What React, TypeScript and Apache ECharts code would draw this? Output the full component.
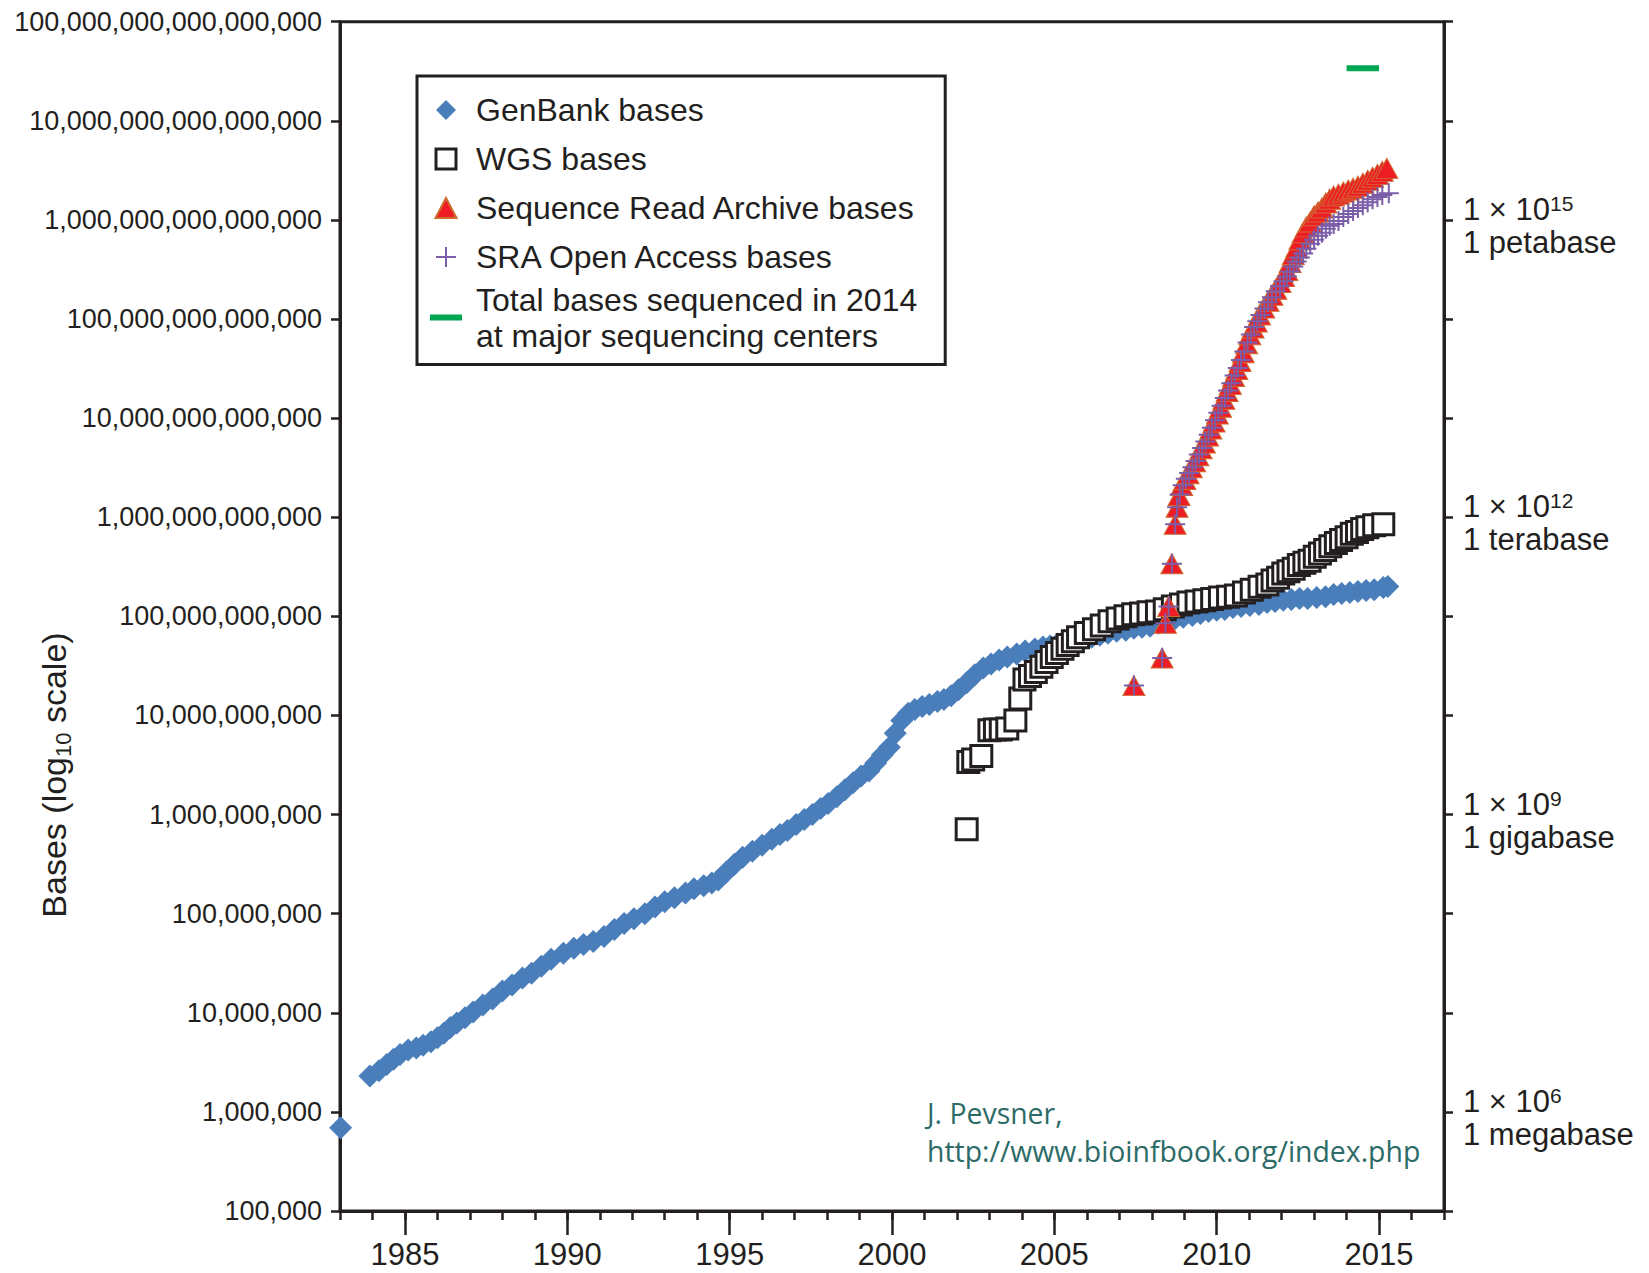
import React, { useEffect, useRef } from 'react';
import * as echarts from 'echarts';

const FONT = '"Liberation Sans", Arial, Helvetica, sans-serif';
const INK = '#231f20';

// ---- axes ----
const yearTicks = [1983, 1984, 1985, 1986, 1987, 1988, 1989, 1990, 1991, 1992, 1993, 1994, 1995, 1996, 1997, 1998, 1999, 2000, 2001, 2002, 2003, 2004, 2005, 2006, 2007, 2008, 2009, 2010, 2011, 2012, 2013, 2014, 2015, 2016, 2017];
const yearLabels = [1985, 1990, 1995, 2000, 2005, 2010, 2015];
const decadeTicks = [1e5, 1e6, 1e7, 1e8, 1e9, 1e10, 1e11, 1e12, 1e13, 1e14, 1e15, 1e16, 1e17];
const decadeLabels = [
  '100,000', '1,000,000', '10,000,000', '100,000,000', '1,000,000,000', '10,000,000,000',
  '100,000,000,000', '1,000,000,000,000', '10,000,000,000,000', '100,000,000,000,000',
  '1,000,000,000,000,000', '10,000,000,000,000,000', '100,000,000,000,000,000',
];
const unitTicks = [1e6, 1e9, 1e12, 1e15];
const unitExponents = ['6', '9', '12', '15'];
const unitNames = ['1 megabase', '1 gigabase', '1 terabase', '1 petabase'];

// ---- series names ----
const NAME_GB = 'GenBank bases';
const NAME_WGS = 'WGS bases';
const NAME_SRA = 'Sequence Read Archive bases';
const NAME_OA = 'SRA Open Access bases';
const NAME_TOTAL = 'Total bases sequenced in 2014\nat major sequencing centers';

// ---- data: [year, bases] ----
const genbank = [
  [1983.02, 6.9e5], [1983.92, 2.3e6], [1984.2, 2.6e6], [1984.44, 3.0e6], [1984.65, 3.4e6], [1984.85, 3.8e6],
  [1985.1, 4.2e6], [1985.35, 4.4e6], [1985.56, 4.7e6], [1985.8, 5.1e6], [1986.0, 5.6e6], [1986.2, 6.2e6],
  [1986.4, 7.1e6], [1986.6, 7.9e6], [1986.85, 8.9e6], [1987.1, 1.02e7], [1987.4, 1.2e7], [1987.7, 1.38e7],
  [1988.0, 1.66e7], [1988.3, 1.91e7], [1988.62, 2.24e7], [1988.9, 2.51e7], [1989.2, 2.95e7], [1989.5, 3.47e7],
  [1989.88, 3.98e7], [1990.2, 4.47e7], [1990.5, 4.9e7], [1990.8, 5.25e7], [1991.13, 5.89e7], [1991.45, 6.92e7],
  [1991.75, 7.94e7], [1992.05, 8.91e7], [1992.39, 1.0e8], [1992.7, 1.17e8], [1993.0, 1.32e8], [1993.3, 1.45e8],
  [1993.64, 1.62e8], [1993.9, 1.78e8], [1994.2, 1.91e8], [1994.45, 2.04e8], [1994.65, 2.19e8], [1994.9, 2.63e8],
  [1995.15, 3.16e8], [1995.4, 3.72e8], [1995.7, 4.27e8], [1996.0, 4.9e8], [1996.3, 5.62e8], [1996.55, 6.31e8],
  [1996.78, 6.92e8], [1997.05, 7.94e8], [1997.3, 8.91e8], [1997.55, 1.0e9], [1997.8, 1.15e9], [1998.03, 1.29e9],
  [1998.3, 1.51e9], [1998.55, 1.78e9], [1998.8, 2.09e9], [1999.05, 2.45e9], [1999.29, 2.75e9], [1999.5, 3.31e9],
  [1999.7, 3.98e9], [1999.92, 4.79e9], [2000.1, 6.61e9], [2000.3, 8.91e9], [2000.5, 1.05e10], [2000.7, 1.15e10],
  [2000.93, 1.23e10], [2001.15, 1.29e10], [2001.4, 1.38e10], [2001.6, 1.45e10], [2001.82, 1.58e10], [2002.05, 1.82e10],
  [2002.3, 2.14e10], [2002.55, 2.57e10], [2002.81, 3.02e10], [2003.05, 3.31e10], [2003.3, 3.63e10], [2003.55, 3.89e10],
  [2003.84, 4.17e10], [2004.1, 4.47e10], [2004.4, 4.68e10], [2004.65, 4.9e10], [2004.87, 5.01e10], [2005.1, 5.25e10],
  [2005.4, 5.5e10], [2005.65, 5.75e10], [2005.89, 5.89e10], [2006.15, 6.17e10], [2006.4, 6.46e10], [2006.65, 6.76e10],
  [2006.92, 7.08e10], [2007.2, 7.24e10], [2007.45, 7.59e10], [2007.7, 7.76e10], [2007.95, 7.94e10], [2008.2, 8.51e10],
  [2008.45, 8.91e10], [2008.7, 9.33e10], [2008.97, 9.77e10], [2009.25, 1.02e11], [2009.5, 1.07e11], [2009.75, 1.12e11],
  [2010.0, 1.15e11], [2010.25, 1.17e11], [2010.5, 1.23e11], [2010.75, 1.26e11], [2011.02, 1.29e11], [2011.3, 1.32e11],
  [2011.55, 1.38e11], [2011.8, 1.41e11], [2012.05, 1.45e11], [2012.3, 1.48e11], [2012.55, 1.51e11], [2012.8, 1.51e11],
  [2013.08, 1.55e11], [2013.35, 1.58e11], [2013.6, 1.66e11], [2013.85, 1.7e11], [2014.1, 1.74e11], [2014.35, 1.78e11],
  [2014.6, 1.82e11], [2014.85, 1.86e11], [2015.13, 1.95e11], [2015.27, 2.0e11],
];

const wgs = [
  [2002.3, 7.1e8], [2002.35, 3.4e9], [2002.5, 3.6e9], [2002.75, 3.9e9], [2003.0, 7.1e9], [2003.17, 7.2e9],
  [2003.35, 7.2e9], [2003.55, 7.4e9], [2003.8, 8.9e9], [2003.95, 1.48e10], [2004.08, 2.3e10], [2004.25, 2.5e10],
  [2004.43, 2.75e10], [2004.6, 3.1e10], [2004.76, 3.47e10], [2004.92, 3.9e10], [2005.08, 4.27e10], [2005.25, 4.7e10],
  [2005.41, 5.13e10], [2005.57, 5.6e10], [2005.73, 6.17e10], [2005.97, 6.8e10], [2006.22, 7.41e10], [2006.46, 8.1e10],
  [2006.7, 8.91e10], [2006.95, 9.5e10], [2007.19, 1.0e11], [2007.43, 1.05e11], [2007.67, 1.07e11], [2007.9, 1.1e11],
  [2008.16, 1.12e11], [2008.4, 1.18e11], [2008.65, 1.26e11], [2008.9, 1.32e11], [2009.13, 1.38e11], [2009.38, 1.41e11],
  [2009.62, 1.45e11], [2009.86, 1.5e11], [2010.1, 1.55e11], [2010.35, 1.58e11], [2010.59, 1.62e11], [2010.84, 1.74e11],
  [2011.08, 1.86e11], [2011.32, 1.99e11], [2011.56, 2.09e11], [2011.72, 2.3e11], [2011.89, 2.45e11], [2012.05, 2.7e11],
  [2012.21, 2.85e11], [2012.37, 3.02e11], [2012.53, 3.3e11], [2012.7, 3.47e11], [2012.86, 3.63e11], [2013.02, 4.0e11],
  [2013.18, 4.3e11], [2013.34, 4.68e11], [2013.5, 5.1e11], [2013.67, 5.5e11], [2013.83, 5.89e11], [2014.0, 6.3e11],
  [2014.16, 6.8e11], [2014.32, 7.08e11], [2014.48, 7.6e11], [2014.64, 7.94e11], [2014.85, 8.3e11], [2015.13, 8.51e11],
];

const sra = [
  [2007.45, 2.0e10], [2008.32, 3.8e10], [2008.42, 8.5e10], [2008.52, 1.26e11], [2008.62, 3.4e11], [2008.72, 8.5e11],
  [2008.78, 1.26e12], [2008.84, 1.66e12], [2008.92, 2.09e12], [2009.02, 2.4e12], [2009.12, 2.75e12], [2009.22, 3.16e12],
  [2009.32, 3.63e12], [2009.42, 4.17e12], [2009.52, 4.9e12], [2009.62, 5.62e12], [2009.72, 6.61e12], [2009.82, 7.76e12],
  [2009.92, 9.12e12], [2010.02, 1.1e13], [2010.12, 1.29e13], [2010.22, 1.55e13], [2010.32, 1.86e13], [2010.42, 2.19e13],
  [2010.52, 2.63e13], [2010.62, 3.09e13], [2010.72, 3.72e13], [2010.82, 4.57e13], [2010.92, 5.62e13], [2011.02, 6.92e13],
  [2011.12, 8.13e13], [2011.22, 9.33e13], [2011.32, 1.1e14], [2011.45, 1.29e14], [2011.58, 1.51e14], [2011.7, 1.74e14],
  [2011.82, 2.0e14], [2011.95, 2.34e14], [2012.06, 2.69e14], [2012.16, 3.09e14], [2012.26, 3.72e14], [2012.36, 4.47e14],
  [2012.46, 5.25e14], [2012.56, 6.31e14], [2012.66, 7.41e14], [2012.76, 8.51e14], [2012.88, 9.55e14], [2013.0, 1.1e15],
  [2013.12, 1.2e15], [2013.24, 1.32e15], [2013.36, 1.48e15], [2013.48, 1.62e15], [2013.6, 1.74e15], [2013.75, 1.82e15],
  [2013.9, 1.91e15], [2014.05, 2.0e15], [2014.2, 2.09e15], [2014.35, 2.19e15], [2014.5, 2.34e15], [2014.65, 2.51e15],
  [2014.8, 2.69e15], [2014.95, 2.88e15], [2015.1, 3.09e15], [2015.24, 3.31e15],
];

const sraOpen = [
  [2007.45, 2.0e10], [2008.32, 3.8e10], [2008.42, 8.5e10], [2008.52, 1.26e11], [2008.62, 3.4e11], [2008.72, 8.5e11],
  [2008.78, 1.26e12], [2008.86, 1.7e12], [2008.95, 2.1e12], [2009.05, 2.45e12], [2009.15, 2.8e12], [2009.25, 3.2e12],
  [2009.35, 3.7e12], [2009.45, 4.3e12], [2009.55, 5.0e12], [2009.65, 5.8e12], [2009.75, 6.8e12], [2009.85, 8.0e12],
  [2009.95, 9.5e12], [2010.05, 1.13e13], [2010.15, 1.33e13], [2010.25, 1.6e13], [2010.35, 1.9e13], [2010.45, 2.25e13],
  [2010.55, 2.7e13], [2010.65, 3.2e13], [2010.75, 3.85e13], [2010.85, 4.7e13], [2010.95, 5.8e13], [2011.05, 7.0e13],
  [2011.15, 8.3e13], [2011.25, 9.5e13], [2011.35, 1.1e14], [2011.47, 1.28e14], [2011.58, 1.48e14], [2011.7, 1.66e14],
  [2011.82, 1.91e14], [2011.95, 2.14e14], [2012.06, 2.4e14], [2012.16, 2.69e14], [2012.26, 3.02e14], [2012.36, 3.39e14],
  [2012.46, 3.8e14], [2012.56, 4.17e14], [2012.66, 4.57e14], [2012.76, 5.13e14], [2012.88, 5.75e14], [2013.0, 6.31e14],
  [2013.12, 6.92e14], [2013.24, 7.41e14], [2013.36, 8.13e14], [2013.48, 8.71e14], [2013.6, 9.12e14], [2013.75, 9.77e14],
  [2013.9, 1.07e15], [2014.05, 1.15e15], [2014.2, 1.23e15], [2014.35, 1.32e15], [2014.5, 1.41e15], [2014.65, 1.51e15],
  [2014.8, 1.62e15], [2014.95, 1.7e15], [2015.1, 1.78e15], [2015.3, 1.86e15],
];

const total2014 = [[2014.0, 3.4e16], [2015.0, 3.4e16]];

const PLUS = 'path://M9,0H11V9H20V11H11V20H9V11H0V9H9Z';
const DASH = 'path://M0,0H32V6H0Z';
const ICON_DIAMOND = 'path://M9,0L18,9L9,18L0,9Z';
const ICON_SQUARE = 'path://M0,0H20V20H0Z';
const ICON_TRIANGLE = 'path://M10,0L20,19L0,19Z';

const expOf = (v: number) => Math.round(Math.log10(v));

export default function App() {
  const ref = useRef<HTMLDivElement>(null);

  useEffect(() => {
    if (!ref.current) return;
    const chart = echarts.init(ref.current, undefined, { renderer: 'svg' });

    const legendText = { fontSize: 32, fontFamily: FONT, color: INK, padding: [0, 0, 0, 9] };

    const option: any = {
      animation: false,
      backgroundColor: '#ffffff',
      grid: {
        left: 340, right: 205, top: 21.7, bottom: 62,
        show: true, borderColor: INK, borderWidth: 3, backgroundColor: 'transparent',
        containLabel: false, outerBoundsMode: 'none',
      },
      legend: {
        orient: 'vertical',
        left: 417, top: 76,
        padding: [9.5, 28, 11, 13],
        borderColor: INK, borderWidth: 3,
        backgroundColor: '#ffffff',
        itemGap: 0, itemWidth: 32, itemHeight: 20,
        symbolKeepAspect: true,
        selectedMode: false,
        textStyle: { ...legendText, lineHeight: 49 },
        data: [
          { name: NAME_GB, icon: ICON_DIAMOND },
          { name: NAME_WGS, icon: ICON_SQUARE, itemStyle: { color: '#ffffff', borderColor: INK, borderWidth: 3 } },
          { name: NAME_SRA, icon: ICON_TRIANGLE },
          { name: NAME_OA, icon: PLUS },
          { name: NAME_TOTAL, icon: DASH, textStyle: { ...legendText, lineHeight: 36 } },
        ],
      },
      xAxis: [
        {
          type: 'value', min: 1983, max: 2017, interval: 1, position: 'bottom',
          axisLine: { show: true, onZero: false, lineStyle: { color: INK, width: 3 } },
          axisTick: { show: true, length: 9, customValues: yearTicks, lineStyle: { color: INK, width: 2.5 } },
          axisLabel: { show: false },
          splitLine: { show: false },
        },
        {
          type: 'value', min: 1983, max: 2017, position: 'bottom',
          axisLine: { show: false, onZero: false },
          axisTick: { show: true, length: 24, customValues: yearLabels, lineStyle: { color: INK, width: 2.5 } },
          axisLabel: {
            show: true, customValues: yearLabels, margin: 28,
            fontSize: 31, fontFamily: FONT, color: INK,
            formatter: (v: number) => String(Math.round(v)),
          },
          splitLine: { show: false },
        },
      ],
      yAxis: [
        {
          type: 'log', logBase: 10, min: 1e5, max: 1e17, interval: 1, position: 'left',
          axisLine: { show: true, onZero: false, lineStyle: { color: INK, width: 3 } },
          axisTick: { show: true, length: 9, lineStyle: { color: INK, width: 2.5 } },
          axisLabel: {
            margin: 18, fontSize: 27, fontFamily: FONT, color: INK,
            formatter: (v: number) => {
              const i = decadeTicks.findIndex((d) => expOf(d) === expOf(v));
              return i >= 0 ? decadeLabels[i] : '';
            },
          },
          splitLine: { show: false },
          minorTick: { show: false },
        },
        {
          type: 'log', logBase: 10, min: 1e5, max: 1e17, interval: 1, position: 'right',
          axisLine: { show: true, onZero: false, lineStyle: { color: INK, width: 3 } },
          axisTick: { show: true, length: 9, lineStyle: { color: INK, width: 2.5 } },
          axisLabel: {
            margin: 19, align: 'left', padding: [12, 0, 0, 0],
            formatter: (v: number) => {
              const i = unitTicks.findIndex((d) => expOf(d) === expOf(v));
              if (i < 0) return '';
              return `{a|1 × 10}{s|${unitExponents[i]}}\n{a|${unitNames[i]}}`;
            },
            rich: {
              a: { fontSize: 31, fontFamily: FONT, color: INK, lineHeight: 33, verticalAlign: 'middle' },
              s: { fontSize: 21, fontFamily: FONT, color: INK, lineHeight: 14, verticalAlign: 'top' },
            },
          },
          splitLine: { show: false },
        },
      ],
      series: [
        {
          name: NAME_GB, type: 'scatter', xAxisIndex: 0, yAxisIndex: 0, z: 2,
          symbol: 'diamond', symbolSize: 23,
          itemStyle: { color: '#4a7ebb', opacity: 1 },
          data: genbank,
        },
        {
          name: NAME_WGS, type: 'scatter', xAxisIndex: 0, yAxisIndex: 0, z: 3,
          symbol: 'rect', symbolSize: 21,
          itemStyle: { color: '#ffffff', borderColor: INK, borderWidth: 3, opacity: 1 },
          data: wgs,
        },
        {
          name: NAME_SRA, type: 'scatter', xAxisIndex: 0, yAxisIndex: 0, z: 4,
          symbol: 'triangle', symbolSize: [22, 20],
          itemStyle: { color: '#ee1c24', borderColor: '#cf6a30', borderWidth: 1, opacity: 1 },
          data: sra,
        },
        {
          name: NAME_OA, type: 'scatter', xAxisIndex: 0, yAxisIndex: 0, z: 5,
          symbol: PLUS, symbolSize: 20,
          itemStyle: { color: '#7b5ea7', opacity: 1 },
          data: sraOpen,
        },
        {
          name: NAME_TOTAL, type: 'line', xAxisIndex: 0, yAxisIndex: 0, z: 6,
          symbol: 'none', color: '#00a651',
          itemStyle: { color: '#00a651' },
          lineStyle: { color: '#00a651', width: 6, cap: 'butt' },
          data: total2014,
        },
      ],
      graphic: [
        {
          type: 'text', x: 54, y: 775, rotation: Math.PI / 2, z: 100,
          style: {
            text: '{a|Bases (log}{s|10}{a| scale)}',
            align: 'center', verticalAlign: 'middle',
            rich: {
              a: { fontSize: 34, fontFamily: FONT, fill: INK, color: INK, lineHeight: 40, verticalAlign: 'middle' },
              s: { fontSize: 22, fontFamily: FONT, fill: INK, color: INK, lineHeight: 16, verticalAlign: 'bottom' },
            },
          },
        },
        {
          type: 'text', x: 927, y: 1094, z: 100,
          style: {
            text: 'J. Pevsner,\nhttp://www.bioinfbook.org/index.php',
            font: '28.4px "Open Sans", "Noto Sans", sans-serif',
            fontSize: 28.4, fontFamily: '"Open Sans", "Noto Sans", sans-serif',
            fill: '#2c6b67', lineHeight: 38, align: 'left', verticalAlign: 'top',
          },
        },
      ],
    };

    chart.setOption(option);
    return () => chart.dispose();
  }, []);

  return (
    <div
      ref={ref}
      style={{ position: 'fixed', left: 0, top: 0, width: 1649, height: 1273, background: '#ffffff' }}
    />
  );
}
